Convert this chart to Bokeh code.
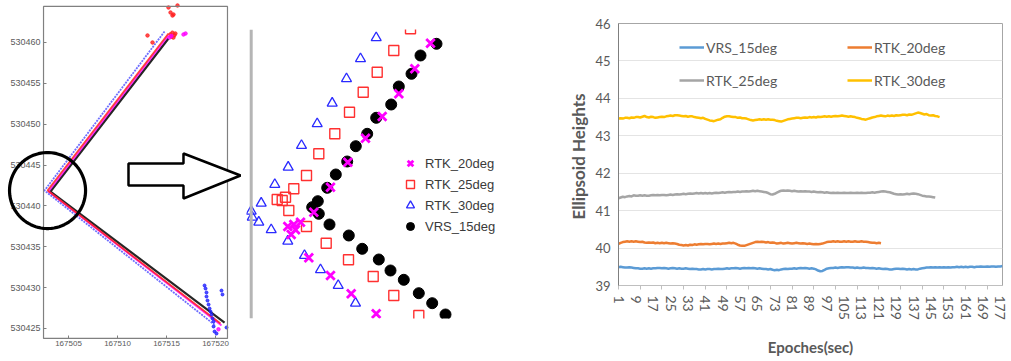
import math
from bokeh.plotting import figure
from bokeh.models import (Range1d, FixedTicker, PolyAnnotation, BoxAnnotation, Span, Legend,
                          LegendItem, BasicTickFormatter, LinearAxis)
from bokeh.layouts import row
from bokeh.embed import file_html
from bokeh.resources import INLINE

# ---------------- left panel: trajectory (easting / northing, m) ----------------
x_ticks_left = [167505, 167510, 167515, 167520]
y_ticks_left = [530425, 530430, 530435, 530440, 530445, 530450, 530455, 530460]
box_e = [167502.45, 167521.22]      # extent of the trajectory map
box_n = [530423.78, 530464.41]

rtk30_e = [167514.80, 167502.55, 167520.00]
rtk30_n = [530461.35, 530441.88, 530425.36]
rtk25_e = [167515.20, 167502.86, 167520.51]
rtk25_n = [530461.10, 530441.88, 530425.60]
rtk20_e = [167515.20, 167502.96, 167520.61]
rtk20_n = [530460.86, 530441.76, 530425.36]
vrs15_e = [167515.20, 167503.16, 167520.92]
vrs15_n = [530460.49, 530441.76, 530425.73]

red_out_e = [167515.20, 167515.41, 167515.61, 167515.71, 167516.12, 167513.06, 167513.57,
             167515.40, 167515.60, 167515.80, 167515.50, 167515.90, 167515.70]
red_out_n = [530464.28, 530463.67, 530463.30, 530463.43, 530464.53, 530460.86, 530460.00,
             530461.00, 530461.20, 530460.90, 530460.70, 530461.10, 530460.60]
mag_out_e = [167516.73, 167516.94, 167515.30, 167515.50, 167520.30]
mag_out_n = [530460.98, 530461.10, 530460.60, 530460.80, 530424.90]
blue_out_e = [167518.88, 167518.98, 167519.08, 167519.08, 167519.18, 167519.29, 167519.39,
              167519.49, 167519.59, 167519.69, 167519.80, 167519.80, 167519.90, 167520.10,
              167520.61, 167520.71, 167521.12]
blue_out_n = [530430.26, 530429.89, 530429.40, 530428.91, 530428.42, 530427.93, 530427.44,
              530427.07, 530426.71, 530426.22, 530425.85, 530425.24, 530424.63, 530424.38,
              530429.64, 530429.16, 530425.12]

# ---------------- middle panel: zoom of the corner (local units) ----------------
vrs_zx = [186, 170, 161, 148.3, 140.7, 125.7, 116.7, 105.3, 96.7, 85.3, 76.7, 67.3, 61.7,
          68.3, 79, 98.3, 111.7, 128.3, 140, 153.3, 168.3, 181.7, 195]
vrs_zy = [274.7, 263, 244.7, 232, 214, 200.7, 184.7, 172.3, 157, 144, 130.7, 117.3, 111.3,
          104.7, 94, 83, 69.7, 59, 48, 38.7, 25.3, 15.3, 4]
r20_zx = [180, 164.3, 148.3, 131.7, 115, 97.3, 80, 63.3, 50, 43.3, 37.3, 45, 40.7,
          58.3, 80, 100.7, 125.7]
r20_zy = [275.3, 249.7, 224.7, 202, 180.3, 156.3, 131.3, 106.3, 96.3, 94, 92, 88.7, 84,
          60.7, 43, 24.7, 4.7]
r25_zx = [160, 143.3, 126.7, 112.7, 99, 84.3, 68.3, 56, 43.3, 35, 26.7, 31.7, 38.3,
          56, 75.7, 98, 122.7, 143.3, 168.3]
r25_zy = [289.7, 268, 246.3, 226.3, 206.3, 184.7, 164.7, 143, 129.7, 121.3, 119, 118, 108,
          92, 75.3, 58.7, 42, 23, 3]
r30_zx = [125.7, 110, 96, 81.7, 66.7, 51, 37.7, 24.3, 10.7, 0.7, 1.7, 8.3, 20.7,
          37.3, 54, 70, 87.7, 105]
r30_zy = [280.7, 259.7, 239.7, 215.3, 194.7, 173, 151.3, 134, 115.3, 107.3, 101.3, 96.3, 88.7,
          77.3, 63, 48.7, 33, 15.3]

# ---------------- right panel: ellipsoid heights ----------------
epoch_labels = [1, 9, 17, 25, 33, 41, 49, 57, 65, 73, 81, 89, 97, 105, 113, 121, 129, 137,
                145, 153, 161, 169, 177]
epoch_marks = [1, 11, 21, 31, 41, 51, 61, 71, 81, 91, 101, 111, 121, 131, 141, 151, 161, 171]
height_ticks = [39, 40, 41, 42, 43, 44, 45, 46]

vrs_15 = [39.49, 39.50, 39.49, 39.48, 39.48, 39.49, 39.48, 39.47, 39.46, 39.46,
          39.45, 39.45, 39.46, 39.45, 39.46, 39.45, 39.46, 39.46, 39.47, 39.47,
          39.46, 39.47, 39.46, 39.45, 39.46, 39.47, 39.46, 39.45, 39.46, 39.45,
          39.45, 39.46, 39.45, 39.44, 39.45, 39.44, 39.44, 39.43, 39.43, 39.44,
          39.43, 39.44, 39.44, 39.43, 39.44, 39.44, 39.45, 39.44, 39.44, 39.45,
          39.46, 39.45, 39.46, 39.46, 39.47, 39.46, 39.45, 39.46, 39.47, 39.46,
          39.47, 39.46, 39.47, 39.46, 39.45, 39.46, 39.45, 39.44, 39.44, 39.43,
          39.44, 39.42, 39.41, 39.42, 39.41, 39.43, 39.44, 39.45, 39.44, 39.45,
          39.45, 39.46, 39.45, 39.46, 39.47, 39.46, 39.47, 39.46, 39.45, 39.46,
          39.45, 39.43, 39.40, 39.38, 39.39, 39.42, 39.45, 39.46, 39.47, 39.47,
          39.48, 39.47, 39.48, 39.49, 39.48, 39.49, 39.49, 39.48, 39.48, 39.47,
          39.48, 39.47, 39.47, 39.48, 39.47, 39.47, 39.46, 39.47, 39.46, 39.45,
          39.46, 39.45, 39.44, 39.45, 39.44, 39.43, 39.43, 39.44, 39.45, 39.45,
          39.44, 39.45, 39.44, 39.43, 39.44, 39.43, 39.44, 39.43, 39.43, 39.45,
          39.46, 39.47, 39.48, 39.48, 39.49, 39.48, 39.49, 39.48, 39.49, 39.48,
          39.49, 39.48, 39.49, 39.48, 39.49, 39.49, 39.50, 39.49, 39.50, 39.49,
          39.50, 39.49, 39.50, 39.50, 39.49, 39.50, 39.50, 39.51, 39.50, 39.50,
          39.51, 39.50, 39.51, 39.51, 39.50, 39.51, 39.51, 39.52]
rtk_20 = [40.11, 40.14, 40.16, 40.17, 40.18, 40.17, 40.18, 40.17, 40.18, 40.17,
          40.16, 40.17, 40.15, 40.14, 40.15, 40.14, 40.15, 40.13, 40.14, 40.13,
          40.14, 40.13, 40.14, 40.13, 40.12, 40.13, 40.12, 40.11, 40.09, 40.08,
          40.07, 40.08, 40.07, 40.09, 40.08, 40.10, 40.09, 40.10, 40.11, 40.10,
          40.11, 40.11, 40.10, 40.11, 40.12, 40.11, 40.12, 40.11, 40.12, 40.12,
          40.13, 40.14, 40.13, 40.14, 40.12, 40.09, 40.07, 40.06, 40.06, 40.08,
          40.10, 40.12, 40.14, 40.16, 40.17, 40.16, 40.17, 40.16, 40.15, 40.16,
          40.14, 40.15, 40.14, 40.12, 40.13, 40.14, 40.12, 40.13, 40.14, 40.13,
          40.12, 40.13, 40.14, 40.13, 40.12, 40.13, 40.12, 40.11, 40.12, 40.11,
          40.10, 40.11, 40.10, 40.11, 40.12, 40.14, 40.16, 40.17, 40.17, 40.18,
          40.17, 40.18, 40.17, 40.17, 40.18, 40.17, 40.18, 40.17, 40.17, 40.18,
          40.17, 40.17, 40.18, 40.17, 40.17, 40.16, 40.15, 40.14, 40.14, 40.13,
          40.14, 40.13]
rtk_25 = [41.33, 41.35, 41.37, 41.36, 41.38, 41.39, 41.38, 41.41, 41.40, 41.40,
          41.41, 41.40, 41.41, 41.40, 41.40, 41.41, 41.42, 41.41, 41.42, 41.41,
          41.42, 41.42, 41.41, 41.42, 41.43, 41.42, 41.43, 41.44, 41.43, 41.44,
          41.45, 41.44, 41.45, 41.46, 41.45, 41.46, 41.47, 41.46, 41.47, 41.46,
          41.47, 41.46, 41.47, 41.46, 41.47, 41.48, 41.47, 41.48, 41.49, 41.48,
          41.49, 41.50, 41.49, 41.50, 41.50, 41.51, 41.50, 41.51, 41.51, 41.52,
          41.51, 41.52, 41.53, 41.52, 41.53, 41.52, 41.51, 41.50, 41.49, 41.47,
          41.44, 41.43, 41.45, 41.48, 41.51, 41.53, 41.54, 41.53, 41.54, 41.53,
          41.52, 41.53, 41.52, 41.51, 41.52, 41.51, 41.52, 41.51, 41.51, 41.50,
          41.51, 41.50, 41.49, 41.50, 41.49, 41.48, 41.49, 41.48, 41.47, 41.48,
          41.47, 41.48, 41.47, 41.47, 41.48, 41.47, 41.47, 41.48, 41.47, 41.47,
          41.48, 41.47, 41.48, 41.47, 41.47, 41.48, 41.48, 41.49, 41.48, 41.49,
          41.50, 41.51, 41.52, 41.51, 41.50, 41.49, 41.47, 41.45, 41.44, 41.43,
          41.44, 41.43, 41.44, 41.45, 41.44, 41.45, 41.46, 41.45, 41.44, 41.42,
          41.40, 41.39, 41.38, 41.38, 41.37, 41.36, 41.35]
rtk_30 = [43.46, 43.47, 43.46, 43.48, 43.48, 43.47, 43.49, 43.48, 43.50, 43.50,
          43.49, 43.51, 43.53, 43.50, 43.49, 43.51, 43.50, 43.48, 43.49, 43.50,
          43.51, 43.50, 43.52, 43.53, 43.54, 43.53, 43.55, 43.55, 43.54, 43.53,
          43.52, 43.53, 43.51, 43.52, 43.52, 43.50, 43.49, 43.48, 43.47, 43.48,
          43.45, 43.43, 43.41, 43.40, 43.39, 43.41, 43.43, 43.44, 43.48, 43.51,
          43.52, 43.52, 43.51, 43.50, 43.50, 43.48, 43.49, 43.47, 43.47, 43.46,
          43.44, 43.42, 43.41, 43.42, 43.43, 43.44, 43.43, 43.44, 43.43, 43.44,
          43.43, 43.43, 43.42, 43.40, 43.39, 43.38, 43.40, 43.42, 43.44, 43.45,
          43.46, 43.47, 43.48, 43.48, 43.47, 43.48, 43.49, 43.48, 43.50, 43.49,
          43.50, 43.49, 43.51, 43.50, 43.51, 43.52, 43.51, 43.52, 43.51, 43.52,
          43.53, 43.52, 43.53, 43.54, 43.53, 43.52, 43.51, 43.52, 43.51, 43.50,
          43.48, 43.47, 43.45, 43.44, 43.43, 43.45, 43.47, 43.49, 43.50, 43.52,
          43.53, 43.54, 43.53, 43.52, 43.54, 43.53, 43.54, 43.53, 43.55, 43.54,
          43.55, 43.56, 43.56, 43.55, 43.57, 43.56, 43.58, 43.60, 43.62, 43.61,
          43.59, 43.57, 43.58, 43.55, 43.54, 43.55, 43.53, 43.52, 43.50]

# =================== LEFT FIGURE (map + circle + arrow) ===================
p1 = figure(width=246, height=352, output_backend="svg", toolbar_location=None,
            x_range=Range1d(167498.06, 167523.16), y_range=Range1d(530422.06, 530465.14),
            x_axis_location=None, y_axis_location=None,
            min_border_left=0, min_border_right=0, min_border_top=0, min_border_bottom=0)
p1.frame_align = False
p1.grid.visible = False
p1.outline_line_color = None

p1.add_layout(BoxAnnotation(left=box_e[0], right=box_e[1], bottom=box_n[0], top=box_n[1],
                            fill_alpha=0, line_color="#808080", line_alpha=1, line_width=1.2))

yax = LinearAxis(fixed_location=box_e[0], ticker=FixedTicker(ticks=y_ticks_left),
                 formatter=BasicTickFormatter(use_scientific=False))
xax = LinearAxis(fixed_location=box_n[0], ticker=FixedTicker(ticks=x_ticks_left),
                 formatter=BasicTickFormatter(use_scientific=False))
for ax in (xax, yax):
    ax.axis_line_color = None
    ax.major_tick_in = 3
    ax.major_tick_out = 0
    ax.minor_tick_in = 0
    ax.minor_tick_out = 0
    ax.major_tick_line_color = "#808080"
    ax.major_label_text_color = "#5a5a5a"
    ax.major_label_text_font = "Liberation Sans"
    ax.major_label_standoff = 3
xax.major_label_text_font_size = "8px"
yax.major_label_text_font_size = "9px"
p1.add_layout(yax, "left")
p1.add_layout(xax, "below")

p1.line(vrs15_e, vrs15_n, line_color="black", line_width=2.2, line_alpha=0.85)
p1.line(rtk20_e, rtk20_n, line_color="#ff00ff", line_width=1.8, line_alpha=0.8)
p1.line(rtk25_e, rtk25_n, line_color="#ff2020", line_width=1.8, line_alpha=0.85)
p1.line(rtk30_e, rtk30_n, line_color="#3030ff", line_width=1.8, line_alpha=0.7, line_dash="2 1")
p1.scatter(red_out_e, red_out_n, size=3.5, color="#ff2020", alpha=0.8)
p1.scatter(mag_out_e, mag_out_n, size=3.5, color="#ff00ff", alpha=0.8)
p1.scatter(blue_out_e, blue_out_n, size=3, color="#2020ff", alpha=0.8)

cx, cy, rx, ry = 167502.86, 530441.88, 3.88, 4.65
angs = [2 * math.pi * k / 90 for k in range(90)]
p1.add_layout(PolyAnnotation(xs=[cx + rx * math.cos(a) for a in angs],
                             ys=[cy + ry * math.sin(a) for a in angs],
                             fill_alpha=0, line_color="black", line_alpha=1, line_width=3.2))
p1.add_layout(PolyAnnotation(
    xs=[167511.12, 167516.73, 167516.73, 167522.55, 167516.73, 167516.73, 167511.12],
    ys=[530445.19, 530445.19, 530446.41, 530443.72, 530440.91, 530442.50, 530442.50],
    fill_color="white", fill_alpha=1, line_color="black", line_alpha=1, line_width=2.5))

# =================== MIDDLE FIGURE ===================
p2 = figure(width=319, height=352, output_backend="svg", toolbar_location=None,
            x_range=Range1d(-4, 315), y_range=Range1d(0, 289),
            x_axis_location=None, y_axis_location=None,
            min_border_left=0, min_border_right=0, min_border_top=29, min_border_bottom=34)
p2.frame_align = False
p2.grid.visible = False
p2.outline_line_color = None
p2.add_layout(Span(location=0.7, dimension="height", line_color="#b5b5b5", line_width=3))

r_vrs = p2.scatter(vrs_zx, vrs_zy, marker="circle", size=11, color="black")
r_30 = p2.scatter(r30_zx, r30_zy, marker="triangle", size=10, fill_color=None,
                  line_color="#2a2aff", line_width=1.3)
r_25 = p2.scatter(r25_zx, r25_zy, marker="square", size=10, fill_color=None,
                  line_color="#ff3030", line_width=1.4)
r_20 = p2.scatter(r20_zx, r20_zy, marker="x", size=12, line_color="#ff00ff", line_width=2.8)

leg2 = Legend(items=[LegendItem(label="RTK_20deg", renderers=[r_20]),
                     LegendItem(label="RTK_25deg", renderers=[r_25]),
                     LegendItem(label="RTK_30deg", renderers=[r_30]),
                     LegendItem(label="VRS_15deg", renderers=[r_vrs])],
              location=(154, 82), padding=0, margin=0, spacing=1,
              glyph_width=20, glyph_height=20, label_height=20, label_standoff=5,
              border_line_color=None, background_fill_alpha=0,
              label_text_font="Liberation Sans", label_text_font_size="13px",
              label_text_color="#3a3a3a")
p2.add_layout(leg2)

# =================== RIGHT FIGURE ===================
p3 = figure(width=446, height=358, output_backend="svg", toolbar_location=None,
            x_range=Range1d(1, 178), y_range=Range1d(39, 46),
            min_border_left=52, min_border_right=9, min_border_top=23, min_border_bottom=70)
p3.frame_align = False
p3.outline_line_color = "#a6a6a6"
p3.xgrid.visible = False
p3.ygrid.grid_line_color = "#e4e4e4"
p3.ygrid.ticker = FixedTicker(ticks=height_ticks)

p3.yaxis.ticker = FixedTicker(ticks=height_ticks)
p3.yaxis.axis_line_color = "#7f7f7f"
p3.yaxis.major_tick_out = 0
p3.yaxis.major_tick_in = 0
p3.yaxis.minor_tick_out = 0
p3.yaxis.minor_tick_in = 0
p3.yaxis.major_label_standoff = 8
p3.yaxis.axis_label = "Ellipsoid  Heights"
p3.yaxis.axis_label_standoff = 3
p3.yaxis.major_label_text_font_size = "13px"
p3.yaxis.axis_label_text_font_size = "17px"

p3.xaxis.ticker = FixedTicker(ticks=epoch_labels, minor_ticks=epoch_marks)
p3.xaxis.axis_line_color = "#bfbfbf"
p3.xaxis.major_tick_out = 0
p3.xaxis.major_tick_in = 0
p3.xaxis.minor_tick_out = 4
p3.xaxis.minor_tick_in = 0
p3.xaxis.minor_tick_line_color = "#bfbfbf"
p3.xaxis.major_label_orientation = "vertical"
p3.xaxis.major_label_standoff = 6
p3.xaxis.axis_label = "Epoches(sec)"
p3.xaxis.axis_label_standoff = 15
p3.xaxis.major_label_text_font_size = "14px"
p3.xaxis.axis_label_text_font_size = "15px"

for ax in (p3.xaxis[0], p3.yaxis[0]):
    ax.major_label_text_font = "Lato"
    ax.major_label_text_color = "#595959"
    ax.axis_label_text_font = "Lato"
    ax.axis_label_text_font_style = "bold"
    ax.axis_label_text_color = "#595959"

l_vrs = p3.line(list(range(1, len(vrs_15) + 1)), vrs_15, line_color="#5B9BD5", line_width=2.5)
l_20 = p3.line(list(range(1, len(rtk_20) + 1)), rtk_20, line_color="#ED7D31", line_width=2.5)
l_25 = p3.line(list(range(1, len(rtk_25) + 1)), rtk_25, line_color="#A5A5A5", line_width=2.5)
l_30 = p3.line(list(range(1, len(rtk_30) + 1)), rtk_30, line_color="#FFC000", line_width=2.5)

leg_kw = dict(orientation="horizontal", padding=0, margin=0, spacing=1,
              glyph_width=25, glyph_height=20, label_height=20, label_width=140,
              label_standoff=2, border_line_color=None, background_fill_alpha=0,
              label_text_font="Lato", label_text_font_size="14px",
              label_text_color="#595959")
p3.add_layout(Legend(items=[LegendItem(label="VRS_15deg", renderers=[l_vrs]),
                            LegendItem(label="RTK_20deg", renderers=[l_20])],
                     location=(61, 228), **leg_kw))
p3.add_layout(Legend(items=[LegendItem(label="RTK_25deg", renderers=[l_25]),
                            LegendItem(label="RTK_30deg", renderers=[l_30])],
                     location=(61, 195), **leg_kw))

layout = row(p1, p2, p3, spacing=0)
open("out.html", "w").write(file_html(layout, INLINE))
